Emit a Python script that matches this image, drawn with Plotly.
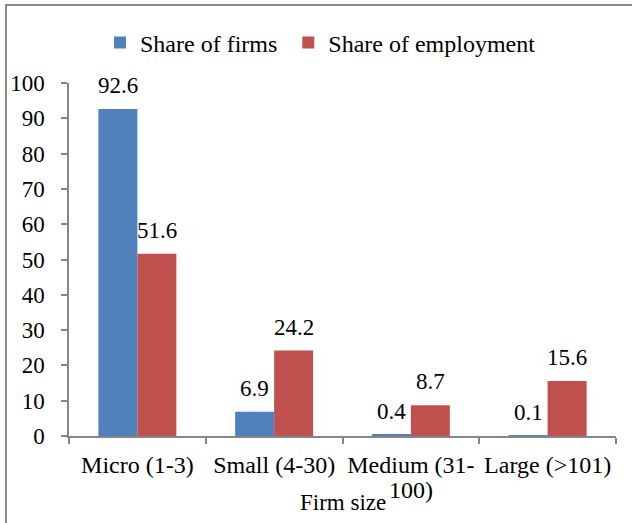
import plotly.graph_objects as go

categories = ["Micro (1-3)", "Small (4-30)", "Medium (31-100)", "Large (>101)"]
tick_labels = ["Micro (1-3)", "Small (4-30)", "Medium (31-", "Large (>101)"]
wrapped_tail = {"Medium (31-100)": "100)"}
share_firms = [92.6, 6.9, 0.4, 0.1]
share_employment = [51.6, 24.2, 8.7, 15.6]
y_ticks = [0, 10, 20, 30, 40, 50, 60, 70, 80, 90, 100]

FONT = "Liberation Serif"
BLUE = "#4F81BD"
RED = "#C0504D"
GRAY = "#868686"

fig = go.Figure()
fig.add_trace(go.Bar(name="Share of firms\u00a0", x=categories, y=share_firms,
                     marker=dict(color=BLUE, line=dict(width=0))))
fig.add_trace(go.Bar(name="Share of employment", x=categories, y=share_employment,
                     marker=dict(color=RED, line=dict(width=0))))

annotations = []
for cat, v in zip(categories, share_firms):
    annotations.append(dict(x=cat, y=v, xref="x", yref="y", text=f"{v}", showarrow=False,
                            xshift=-19.5, yshift=9, yanchor="bottom",
                            font=dict(family=FONT, size=23, color="black")))
for cat, v in zip(categories, share_employment):
    annotations.append(dict(x=cat, y=v, xref="x", yref="y", text=f"{v}", showarrow=False,
                            xshift=19.5, yshift=9, yanchor="bottom",
                            font=dict(family=FONT, size=23, color="black")))
for cat, tail in wrapped_tail.items():
    annotations.append(dict(x=cat, y=(436 - 490) / 353, xref="x", yref="paper", text=tail,
                            showarrow=False, xanchor="center", yanchor="middle",
                            font=dict(family=FONT, size=24, color="black")))
annotations.append(dict(x=0.5, y=(436 - 503) / 353, xref="paper", yref="paper",
                        text="Firm size", showarrow=False, xanchor="center", yanchor="middle",
                        font=dict(family=FONT, size=23, color="black")))

fig.update_layout(
    width=632, height=523,
    margin=dict(l=69, r=16, t=83, b=87, autoexpand=False),
    paper_bgcolor="white", plot_bgcolor="white",
    font=dict(family=FONT, size=23, color="black"),
    barmode="group", bargap=0.43, bargroupgap=0,
    showlegend=True,
    legend=dict(orientation="h", xref="container", yref="container",
                x=100 / 632, xanchor="left", y=1 - 43 / 523, yanchor="middle",
                font=dict(family=FONT, size=24, color="black"),
                itemwidth=30, tracegroupgap=0, bgcolor="rgba(0,0,0,0)"),
    xaxis=dict(type="category", showline=True, linecolor=GRAY, linewidth=1.5, automargin=False,
               ticks="outside", tickson="boundaries", ticklen=6, tickcolor=GRAY, tickwidth=1.5,
               showgrid=False, zeroline=False, ticklabelstandoff=6, tickangle=0,
               tickmode="array", tickvals=categories, ticktext=tick_labels,
               tickfont=dict(family=FONT, size=24, color="black")),
    yaxis=dict(range=[0, 100], tickvals=y_ticks, showline=True, linecolor=GRAY, linewidth=1.5,
               automargin=False,
               ticks="outside", ticklen=6, tickcolor=GRAY, tickwidth=1.5,
               showgrid=False, zeroline=False, ticklabelstandoff=12,
               tickfont=dict(family=FONT, size=23, color="black")),
    annotations=annotations,
    shapes=[dict(type="rect", xref="paper", yref="paper",
                 x0=(6 - 69) / 547, x1=1.2, y0=-0.4, y1=(436 - 5) / 353,
                 line=dict(color="#8C8C8C", width=2), fillcolor="rgba(0,0,0,0)", layer="below")],
)

fig.write_html("out.html", config={"displayModeBar": False},
               post_script="document.body.style.margin='0';")
